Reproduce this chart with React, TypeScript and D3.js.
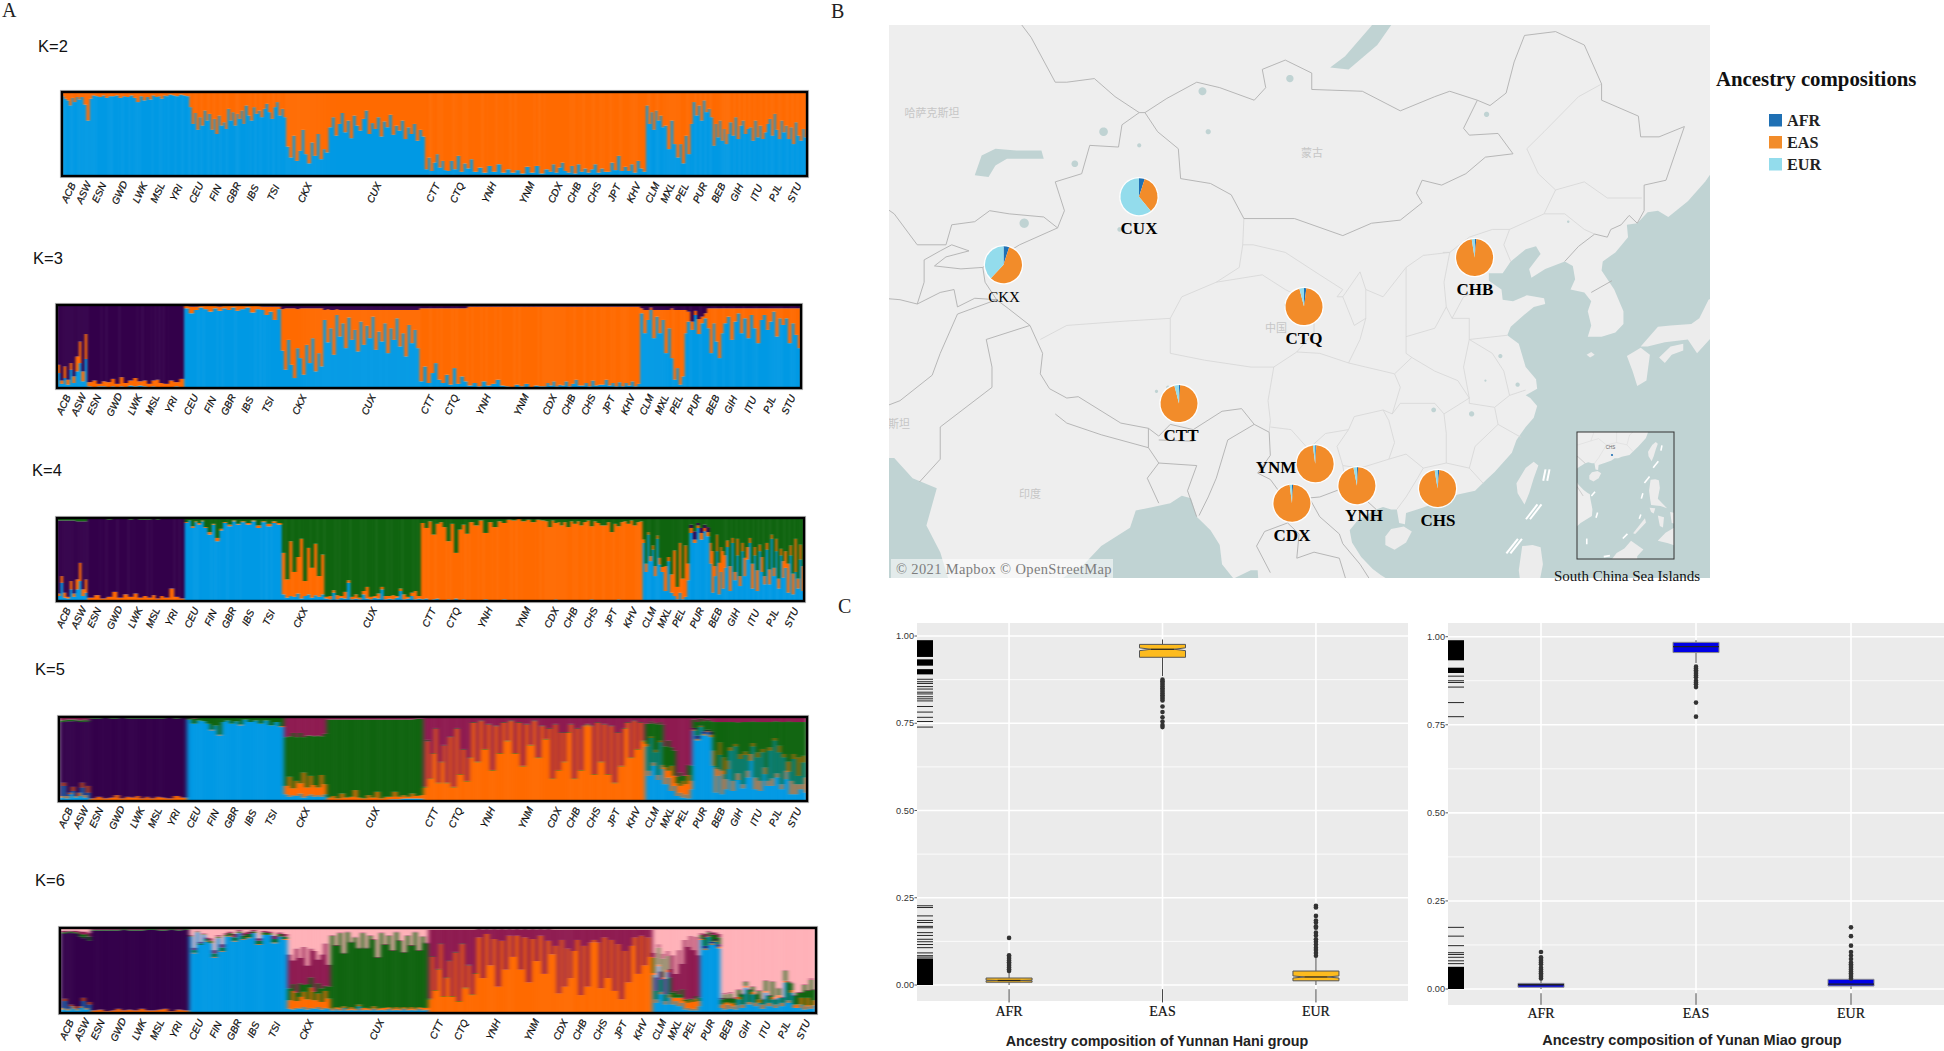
import React from "react";
import * as d3 from "d3";

const SERIF = "'Liberation Serif', serif";
const SANS = "'Liberation Sans', sans-serif";

// Panel A: populations and their relative widths
const populations = ["ACB", "ASW", "ESN", "GWD", "LWK", "MSL", "YRI", "CEU", "FIN", "GBR", "IBS", "TSI", "CKX", "CUX", "CTT", "CTQ", "YNH", "YNM", "CDX", "CHB", "CHS", "JPT", "KHV", "CLM", "MXL", "PEL", "PUR", "BEB", "GIH", "ITU", "PJL", "STU"];
const popSizes = [96, 61, 99, 113, 99, 85, 108, 99, 99, 91, 107, 107, 220, 500, 113, 137, 194, 200, 93, 103, 105, 104, 99, 94, 64, 85, 104, 86, 103, 102, 96, 102];

const BLUE = "#0099e4";
const ORANGE = "#ff6a00";
const PURPLE = "#33004a";
const GREEN = "#0f640f";
const CRIMSON = "#8e1a50";
const PINK = "#ffb1b8";

// every column lists the layers from the bottom in percent, the top layer takes the rest
const k2Values = [
  [[95], [92], [90], [84], [93], [88], [94], [91]],
  [[94], [85], [66], [92]],
  [[96], [95], [94], [96], [93], [95]],
  [[95], [96], [93], [95], [94], [96]],
  [[93], [88], [95], [90], [94], [91]],
  [[96], [94], [95], [92], [96], [95]],
  [[97], [96], [95], [97], [96], [95]],
  [[82], [62], [75], [55], [70], [60], [78], [66]],
  [[74], [55], [68], [50], [72], [60], [64], [56]],
  [[80], [66], [76], [60], [74], [68], [78], [62]],
  [[84], [72], [66], [82], [74], [78], [70], [80]],
  [[86], [76], [68], [82], [88], [72], [80], [70]],
  [[35], [22], [48], [18], [30], [55], [26], [15], [40], [24], [50], [20], [32], [28]],
  [[58], [70], [48], [62], [75], [52], [66], [45], [72], [60], [54], [68], [78], [50], [63], [56], [70], [47], [65], [58], [73], [49], [60], [54], [66], [44], [58], [50], [62], [42], [55], [47]],
  [[8], [22], [6], [16], [26], [10], [18], [7]],
  [[6], [18], [8], [24], [5], [15], [9], [20]],
  [[5], [10], [4], [12], [5], [14], [4], [8]],
  [[4], [7], [3], [11], [4], [12], [3], [8]],
  [[5], [14], [4], [10], [16], [6]],
  [[4], [12], [3], [14], [5], [9]],
  [[4], [8], [14], [4], [9], [5]],
  [[5], [16], [7], [24], [6], [11]],
  [[6], [14], [4], [18], [9], [5]],
  [[84], [62], [76], [55], [78], [66], [72], [58]],
  [[60], [32], [66], [38]],
  [[22], [38], [15], [48], [26], [62]],
  [[88], [72], [84], [66], [90], [76], [80], [70]],
  [[36], [62], [46], [66], [42], [56], [38], [50]],
  [[64], [48], [70], [44], [60], [66], [50], [56]],
  [[58], [42], [66], [46], [60], [44], [52], [62]],
  [[68], [48], [74], [55], [44], [66], [52], [60]],
  [[44], [58], [38], [64], [48], [42], [56], [46]],
];

const k3Values = [
  [[18, 10], [5, 4], [12, 14], [4, 6], [22, 8], [6, 8]],
  [[20, 18], [30, 26], [8, 12], [35, 30]],
  [[2, 5], [1, 8], [2, 3], [2, 6]],
  [[1, 6], [2, 9], [1, 4], [2, 11], [1, 5]],
  [[3, 6], [2, 10], [3, 5], [2, 7]],
  [[1, 4], [2, 7], [1, 9], [1, 5]],
  [[1, 4], [1, 8], [2, 5], [1, 10]],
  [[96, 3], [90, 8], [94, 4], [97, 2]],
  [[95, 4], [92, 7], [96, 3], [93, 5]],
  [[96, 3], [94, 5], [97, 2], [93, 6]],
  [[95, 4], [97, 2], [91, 8], [95, 4]],
  [[94, 4], [88, 10], [92, 6], [82, 16], [95, 3]],
  [[45, 50], [22, 74], [58, 38], [28, 68], [12, 84], [48, 47], [36, 60], [16, 80], [52, 44], [30, 66], [60, 36], [20, 76], [42, 54], [26, 70]],
  [[82, 12], [55, 40], [72, 22], [40, 54], [88, 7], [62, 32], [78, 16], [48, 46], [85, 9], [58, 36], [70, 24], [44, 50], [80, 14], [52, 42], [75, 19], [60, 34], [86, 8], [46, 48], [68, 26], [56, 38], [78, 16], [42, 52], [72, 22], [58, 36], [84, 10], [50, 44], [66, 28], [38, 56], [76, 18], [54, 40], [70, 24], [48, 46]],
  [[8, 88], [26, 70], [6, 90], [18, 78], [30, 66], [10, 86]],
  [[6, 90], [16, 80], [4, 92], [24, 72], [5, 91], [14, 82], [8, 88]],
  [[3, 95], [6, 92], [2, 96], [8, 90], [3, 95], [5, 93], [10, 88], [3, 95]],
  [[2, 96], [1, 97], [4, 94], [2, 96], [5, 93], [1, 97], [3, 95], [2, 96]],
  [[2, 96], [6, 92], [3, 95], [8, 90], [2, 96], [4, 94]],
  [[3, 95], [8, 90], [2, 96], [5, 93], [10, 88], [3, 95]],
  [[3, 95], [6, 92], [2, 96], [9, 89], [3, 95], [4, 94]],
  [[4, 94], [10, 88], [3, 95], [6, 92], [2, 96], [7, 91]],
  [[2, 96], [6, 92], [3, 95], [8, 90], [2, 96], [5, 93]],
  [[90, 6], [66, 28], [82, 12], [94, 3], [60, 34], [86, 8]],
  [[66, 28], [82, 12], [42, 52], [72, 22]],
  [[36, 60], [10, 84], [24, 70], [4, 90], [14, 80], [66, 28]],
  [[80, 12], [70, 10], [88, 5], [65, 18], [78, 8], [84, 6]],
  [[72, 24], [42, 54], [78, 18], [56, 40], [36, 60], [66, 30]],
  [[78, 18], [86, 10], [58, 38], [80, 16], [90, 6], [66, 30]],
  [[84, 12], [60, 36], [88, 8], [72, 24], [54, 42], [82, 14]],
  [[88, 8], [70, 26], [80, 16], [92, 4], [62, 34], [84, 12]],
  [[76, 20], [84, 12], [54, 42], [78, 18], [64, 32], [48, 48]],
];

const k4Values = [
  [[6, 3, 88], [22, 8, 67], [4, 6, 87], [3, 2, 92], [14, 10, 73], [5, 4, 88]],
  [[14, 12, 70], [24, 22, 50], [6, 8, 82], [10, 16, 70]],
  [[1, 3, 95], [1, 6, 92], [1, 2, 96]],
  [[1, 4, 93], [1, 10, 88], [1, 3, 95], [1, 7, 91]],
  [[1, 4, 93], [1, 8, 90], [1, 3, 94], [1, 5, 92]],
  [[1, 3, 94], [1, 6, 92], [1, 2, 95], [1, 5, 93]],
  [[1, 3, 95], [1, 14, 84], [1, 4, 94], [1, 2, 96]],
  [[94, 1, 0], [97, 0, 0], [88, 2, 0], [95, 1, 0], [92, 2, 0], [96, 1, 0]],
  [[88, 1, 0], [80, 3, 0], [92, 1, 0], [72, 4, 0], [85, 2, 0]],
  [[94, 1, 0], [90, 2, 0], [96, 1, 0], [92, 1, 0]],
  [[95, 1, 0], [92, 2, 0], [96, 1, 0], [88, 3, 0]],
  [[95, 1, 0], [90, 3, 0], [94, 2, 0], [92, 2, 0]],
  [[8, 50, 0], [4, 22, 0], [6, 66, 0], [5, 30, 0], [9, 44, 0], [3, 72, 0], [6, 18, 0], [8, 56, 0], [4, 36, 0], [7, 62, 0], [5, 25, 0], [8, 48, 0]],
  [[3, 2, 0], [2, 4, 0], [10, 3, 0], [2, 5, 0], [4, 2, 0], [3, 8, 0], [22, 3, 0], [2, 3, 0], [3, 5, 0], [2, 2, 0], [8, 4, 0], [3, 14, 0], [2, 3, 0], [4, 2, 0], [3, 6, 0], [14, 3, 0], [2, 4, 0], [3, 3, 0], [2, 5, 0], [4, 2, 0], [12, 3, 0], [2, 6, 0], [3, 2, 0], [6, 4, 0], [2, 10, 0], [3, 3, 0]],
  [[2, 92, 0], [3, 85, 0], [1, 95, 0], [2, 78, 0], [3, 90, 0], [1, 94, 0]],
  [[1, 88, 0], [2, 70, 0], [1, 92, 0], [3, 55, 0], [1, 85, 0], [2, 90, 0], [1, 80, 0]],
  [[1, 94, 0], [1, 90, 0], [1, 96, 0], [2, 80, 0], [1, 94, 0], [1, 88, 0], [1, 95, 0], [2, 92, 0]],
  [[1, 97, 0], [1, 96, 0], [1, 98, 0], [1, 95, 0], [1, 97, 0], [1, 94, 0], [1, 97, 0], [1, 96, 0]],
  [[1, 95, 0], [1, 88, 0], [1, 96, 0], [2, 92, 0], [1, 94, 0], [1, 90, 0]],
  [[1, 94, 0], [1, 88, 0], [1, 95, 0], [1, 92, 0], [1, 95, 0], [1, 90, 0]],
  [[1, 94, 0], [1, 96, 0], [2, 88, 0], [1, 95, 0], [1, 93, 0], [1, 90, 0]],
  [[1, 90, 0], [1, 94, 0], [1, 82, 0], [1, 92, 0], [2, 88, 0], [1, 94, 0]],
  [[1, 95, 0], [1, 92, 0], [1, 96, 0], [1, 90, 0], [1, 94, 0], [1, 95, 0]],
  [[70, 4, 0], [35, 10, 0], [80, 3, 0], [48, 6, 0], [62, 5, 0], [30, 12, 0], [75, 4, 0], [44, 8, 0]],
  [[35, 6, 0], [12, 30, 0], [48, 5, 0], [10, 22, 0]],
  [[6, 55, 0], [2, 15, 0], [10, 60, 0], [2, 25, 0], [5, 62, 0], [25, 20, 0]],
  [[82, 6, 4], [70, 4, 10], [88, 3, 3], [74, 8, 6], [84, 4, 4], [78, 5, 6]],
  [[45, 25, 0], [10, 50, 0], [30, 12, 0], [60, 20, 0], [8, 38, 0], [35, 30, 0], [15, 45, 0], [40, 15, 0]],
  [[65, 8, 0], [12, 30, 0], [70, 6, 0], [25, 10, 0], [55, 20, 0], [18, 12, 0], [60, 10, 0], [30, 22, 0]],
  [[50, 15, 0], [70, 6, 0], [15, 30, 0], [55, 10, 0], [12, 25, 0], [60, 8, 0], [35, 18, 0], [20, 10, 0]],
  [[62, 8, 0], [20, 18, 0], [75, 5, 0], [30, 10, 0], [60, 15, 0], [15, 12, 0], [55, 8, 0], [28, 20, 0]],
  [[40, 20, 0], [10, 35, 0], [55, 12, 0], [8, 25, 0], [35, 40, 0], [15, 12, 0], [50, 18, 0], [12, 30, 0]],
];

const k5Values = [
  [[4, 2, 88, 2], [18, 4, 72, 2], [3, 3, 89, 2], [8, 2, 85, 2], [12, 5, 78, 2], [4, 2, 90, 1]],
  [[6, 4, 84, 2], [16, 6, 72, 2], [4, 3, 88, 2], [10, 8, 76, 2]],
  [[1, 2, 95, 1], [1, 4, 93, 1], [1, 2, 96, 1]],
  [[1, 3, 94, 1], [1, 6, 91, 1], [1, 2, 96, 1], [1, 4, 93, 1]],
  [[1, 3, 94, 1], [1, 5, 92, 1], [1, 2, 95, 1], [1, 4, 93, 1]],
  [[1, 2, 95, 1], [1, 4, 93, 1], [1, 3, 94, 1]],
  [[1, 2, 96, 1], [1, 5, 92, 1], [1, 3, 95, 1]],
  [[97, 0, 0, 2], [92, 0, 0, 6], [96, 0, 0, 3], [95, 0, 0, 4]],
  [[92, 0, 0, 7], [84, 1, 0, 14], [90, 0, 0, 9], [78, 1, 0, 20], [94, 0, 0, 5]],
  [[96, 0, 0, 3], [92, 0, 0, 7], [95, 0, 0, 4], [90, 1, 0, 8]],
  [[97, 0, 0, 2], [94, 0, 0, 5], [96, 0, 0, 3], [92, 0, 0, 7]],
  [[96, 0, 0, 3], [90, 0, 0, 9], [94, 0, 0, 5], [88, 1, 0, 10]],
  [[8, 10, 0, 58], [5, 24, 0, 48], [7, 8, 0, 66], [6, 18, 0, 52], [9, 12, 0, 60], [4, 30, 0, 42], [6, 10, 0, 62], [8, 22, 0, 48], [5, 14, 0, 58], [7, 9, 0, 62], [5, 26, 0, 46], [8, 12, 0, 60]],
  [[1, 3, 0, 93], [1, 5, 0, 91], [1, 2, 0, 94], [1, 8, 0, 88], [1, 3, 0, 93], [1, 4, 0, 92], [1, 12, 0, 84], [1, 3, 0, 93], [1, 2, 0, 94], [1, 6, 0, 90], [1, 3, 0, 93], [1, 10, 0, 86], [1, 2, 0, 94], [1, 4, 0, 92], [2, 3, 0, 92], [2, 9, 0, 86], [2, 3, 0, 92], [3, 4, 0, 90], [3, 2, 0, 92], [3, 6, 0, 88], [3, 3, 0, 92], [3, 4, 0, 91]],
  [[1, 15, 0, 1], [1, 70, 0, 2], [1, 25, 0, 1], [1, 55, 0, 1], [1, 85, 0, 1], [1, 20, 0, 1], [1, 45, 0, 1], [1, 65, 0, 1]],
  [[1, 20, 0, 1], [1, 75, 0, 1], [1, 15, 0, 1], [1, 85, 0, 1], [1, 30, 0, 1], [1, 60, 0, 1], [1, 22, 0, 1], [1, 50, 0, 1]],
  [[1, 92, 0, 1], [1, 45, 0, 1], [1, 94, 0, 1], [1, 60, 0, 1], [1, 90, 0, 1], [1, 35, 0, 1], [1, 88, 0, 1], [1, 55, 0, 1], [1, 92, 0, 1], [1, 70, 0, 1]],
  [[1, 94, 0, 1], [1, 55, 0, 1], [1, 92, 0, 1], [1, 40, 0, 1], [1, 90, 0, 1], [1, 65, 0, 1], [1, 94, 0, 1], [1, 50, 0, 1], [1, 88, 0, 1], [1, 72, 0, 1]],
  [[1, 85, 0, 1], [1, 25, 0, 1], [1, 90, 0, 1], [1, 35, 0, 1], [1, 80, 0, 1], [1, 45, 0, 1]],
  [[1, 80, 0, 1], [1, 90, 0, 1], [1, 25, 0, 1], [1, 85, 0, 1], [1, 35, 0, 1], [1, 88, 0, 1]],
  [[1, 90, 0, 1], [1, 88, 0, 1], [1, 30, 0, 1], [1, 92, 0, 1], [1, 45, 0, 1], [1, 90, 0, 1]],
  [[1, 30, 0, 1], [1, 88, 0, 1], [1, 20, 0, 1], [1, 80, 0, 1], [1, 40, 0, 1], [1, 85, 0, 1]],
  [[1, 92, 0, 1], [1, 50, 0, 1], [1, 94, 0, 1], [1, 60, 0, 1], [1, 92, 0, 1], [1, 70, 0, 1]],
  [[65, 3, 0, 24], [30, 6, 0, 56], [75, 2, 0, 18], [42, 4, 0, 46], [58, 3, 0, 32], [25, 6, 0, 60], [70, 2, 0, 22], [38, 5, 0, 48]],
  [[20, 20, 0, 25], [28, 8, 0, 36], [12, 30, 0, 22], [18, 12, 0, 30]],
  [[6, 15, 0, 8], [10, 8, 0, 16], [4, 20, 0, 6], [8, 12, 0, 10], [3, 28, 0, 12], [14, 10, 0, 18]],
  [[84, 1, 2, 10], [72, 2, 4, 16], [88, 1, 1, 8], [78, 2, 3, 12], [82, 1, 2, 12], [76, 3, 4, 12]],
  [[42, 18, 0, 34], [10, 30, 0, 54], [30, 8, 0, 56], [55, 15, 0, 24], [8, 28, 0, 58], [32, 20, 0, 42], [14, 12, 0, 68], [38, 10, 0, 46]],
  [[60, 4, 0, 30], [12, 12, 0, 70], [65, 3, 0, 26], [25, 8, 0, 60], [50, 6, 0, 38], [15, 5, 0, 74], [55, 4, 0, 35], [28, 8, 0, 58]],
  [[48, 8, 0, 38], [65, 4, 0, 26], [14, 14, 0, 66], [52, 6, 0, 36], [12, 12, 0, 70], [58, 4, 0, 32], [32, 8, 0, 54], [18, 6, 0, 70]],
  [[60, 4, 0, 30], [18, 9, 0, 67], [72, 3, 0, 20], [28, 5, 0, 62], [58, 8, 0, 28], [14, 6, 0, 74], [52, 4, 0, 38], [26, 10, 0, 58]],
  [[35, 12, 0, 48], [8, 16, 0, 70], [50, 6, 0, 38], [8, 12, 0, 74], [30, 22, 0, 42], [14, 6, 0, 74], [46, 8, 0, 40], [10, 18, 0, 66]],
];

const k6Values = [
  [[4, 2, 88, 1, 2], [14, 3, 76, 2, 2], [3, 2, 90, 1, 1], [8, 2, 84, 2, 1], [5, 3, 86, 1, 2], [3, 2, 88, 2, 2]],
  [[6, 2, 82, 3, 3], [14, 4, 70, 4, 4], [4, 2, 84, 3, 3], [10, 3, 72, 5, 4]],
  [[1, 2, 94, 1, 1], [1, 3, 93, 1, 1], [1, 1, 95, 1, 1]],
  [[1, 2, 94, 1, 1], [1, 4, 92, 1, 1], [1, 2, 95, 1, 1], [1, 3, 93, 1, 1]],
  [[1, 2, 94, 1, 1], [1, 4, 92, 1, 1], [1, 2, 95, 1, 1]],
  [[1, 2, 95, 1, 1], [1, 3, 93, 1, 1], [1, 4, 92, 1, 1]],
  [[1, 1, 96, 1, 1], [1, 3, 93, 1, 1], [1, 2, 95, 1, 1]],
  [[90, 0, 0, 1, 1], [70, 1, 0, 3, 3], [95, 0, 0, 1, 1], [80, 0, 0, 2, 2], [92, 0, 0, 1, 1], [84, 1, 0, 2, 2]],
  [[82, 0, 0, 3, 3], [65, 1, 0, 4, 4], [88, 0, 0, 2, 2], [72, 1, 0, 4, 4], [90, 0, 0, 2, 2]],
  [[90, 1, 0, 3, 2], [84, 1, 0, 4, 4], [94, 0, 0, 2, 2], [86, 1, 0, 4, 3]],
  [[88, 1, 0, 4, 3], [94, 0, 0, 2, 2], [80, 1, 0, 4, 3], [92, 0, 0, 3, 2]],
  [[92, 0, 0, 2, 2], [82, 1, 0, 4, 4], [90, 0, 0, 3, 2], [86, 1, 0, 3, 3]],
  [[5, 10, 0, 14, 40], [4, 22, 0, 8, 28], [6, 8, 0, 10, 52], [5, 14, 0, 16, 30], [7, 18, 0, 8, 45], [4, 12, 0, 18, 22], [6, 24, 0, 12, 34], [5, 10, 0, 10, 48], [7, 16, 0, 12, 28], [4, 9, 0, 16, 40], [6, 20, 0, 6, 50], [5, 12, 0, 14, 26]],
  [[3, 2, 0, 86, 1], [5, 2, 0, 72, 1], [3, 3, 0, 88, 1], [6, 2, 0, 62, 1], [3, 2, 0, 90, 1], [4, 3, 0, 76, 1], [3, 2, 0, 84, 1], [8, 2, 0, 66, 1], [3, 3, 0, 88, 1], [4, 2, 0, 70, 1], [3, 2, 0, 86, 1], [5, 3, 0, 78, 1], [3, 2, 0, 60, 1], [4, 2, 0, 88, 1], [3, 3, 0, 74, 1], [5, 2, 0, 84, 1], [3, 2, 0, 68, 1], [4, 3, 0, 88, 1], [3, 2, 0, 80, 1], [5, 2, 0, 64, 1], [3, 2, 0, 86, 1], [4, 3, 0, 72, 1], [3, 2, 0, 90, 1], [5, 2, 0, 66, 1], [3, 3, 0, 84, 1], [4, 2, 0, 76, 1]],
  [[1, 15, 0, 1, 81], [1, 65, 0, 1, 31], [1, 25, 0, 1, 71], [1, 50, 0, 1, 46], [1, 80, 0, 1, 16], [1, 18, 0, 1, 78], [1, 40, 0, 1, 56], [1, 60, 0, 1, 36]],
  [[1, 18, 0, 1, 78], [1, 70, 0, 1, 26], [1, 12, 0, 1, 84], [1, 80, 0, 1, 16], [1, 28, 0, 1, 68], [1, 55, 0, 1, 41], [1, 20, 0, 1, 76], [1, 45, 0, 1, 51]],
  [[1, 88, 0, 0, 10], [1, 40, 0, 0, 57], [1, 92, 0, 0, 6], [1, 55, 0, 0, 42], [1, 86, 0, 0, 12], [1, 30, 0, 0, 67], [1, 84, 0, 0, 14], [1, 50, 0, 0, 47], [1, 90, 0, 0, 8], [1, 65, 0, 0, 32]],
  [[1, 90, 0, 0, 8], [1, 50, 0, 0, 47], [1, 88, 0, 0, 10], [1, 35, 0, 0, 62], [1, 86, 0, 0, 12], [1, 60, 0, 0, 37], [1, 90, 0, 0, 8], [1, 45, 0, 0, 52], [1, 84, 0, 0, 14], [1, 68, 0, 0, 29]],
  [[1, 78, 0, 0, 19], [1, 22, 0, 0, 75], [1, 85, 0, 0, 12], [1, 30, 0, 0, 67], [1, 75, 0, 0, 22], [1, 40, 0, 0, 57]],
  [[1, 72, 0, 0, 25], [1, 85, 0, 0, 12], [1, 20, 0, 0, 77], [1, 78, 0, 0, 19], [1, 30, 0, 0, 67], [1, 82, 0, 0, 15]],
  [[1, 85, 0, 0, 12], [1, 82, 0, 0, 15], [1, 28, 0, 0, 69], [1, 88, 0, 0, 9], [1, 40, 0, 0, 57], [1, 85, 0, 0, 12]],
  [[1, 25, 0, 0, 72], [1, 80, 0, 0, 17], [1, 15, 0, 0, 82], [1, 72, 0, 0, 25], [1, 35, 0, 0, 62], [1, 78, 0, 0, 19]],
  [[1, 88, 0, 0, 9], [1, 45, 0, 0, 52], [1, 90, 0, 0, 7], [1, 55, 0, 0, 42], [1, 88, 0, 0, 9], [1, 65, 0, 0, 32]],
  [[45, 2, 0, 18, 6], [12, 4, 0, 10, 16], [55, 2, 0, 20, 4], [22, 3, 0, 14, 10], [40, 2, 0, 22, 6], [10, 4, 0, 8, 18], [48, 3, 0, 16, 6], [18, 4, 0, 20, 10]],
  [[10, 8, 0, 6, 44], [14, 4, 0, 8, 20], [8, 10, 0, 4, 52], [12, 6, 0, 10, 30]],
  [[4, 10, 0, 2, 70], [6, 6, 0, 4, 62], [3, 12, 0, 2, 74], [5, 8, 0, 3, 58], [3, 14, 0, 3, 70], [8, 6, 0, 4, 50]],
  [[86, 1, 1, 4, 2], [74, 2, 3, 10, 4], [90, 1, 1, 3, 2], [80, 2, 2, 8, 3], [84, 1, 2, 5, 3], [76, 2, 3, 8, 4]],
  [[6, 4, 0, 6, 2], [4, 8, 0, 10, 2], [10, 3, 0, 4, 1], [5, 6, 0, 12, 2], [8, 4, 0, 5, 1], [4, 5, 0, 8, 2]],
  [[16, 3, 0, 8, 1], [6, 4, 0, 12, 1], [30, 2, 0, 5, 1], [10, 3, 0, 14, 1], [22, 3, 0, 6, 1], [8, 4, 0, 10, 1]],
  [[12, 4, 0, 10, 1], [5, 5, 0, 6, 1], [24, 2, 0, 12, 1], [8, 4, 0, 8, 1], [16, 3, 0, 18, 1], [6, 4, 0, 6, 1]],
  [[18, 3, 0, 8, 1], [8, 4, 0, 6, 1], [36, 2, 0, 12, 1], [12, 3, 0, 22, 1], [24, 3, 0, 8, 1], [6, 4, 0, 10, 1]],
  [[6, 4, 0, 14, 1], [10, 8, 0, 6, 1], [4, 5, 0, 24, 1], [8, 10, 0, 8, 1], [5, 4, 0, 30, 2], [9, 6, 0, 12, 1]],
];

const k2Colors = [BLUE, ORANGE];
const k3Colors = [BLUE, ORANGE, PURPLE];
const k4Colors = [BLUE, ORANGE, PURPLE, GREEN];
const k5Colors = [BLUE, ORANGE, PURPLE, GREEN, CRIMSON];
const k6Colors = [BLUE, ORANGE, PURPLE, GREEN, CRIMSON, PINK];

// Panel B: map outlines in lon/lat
const seaEast = [[108.9, 15], [108.8, 15.8], [108.3, 16.1], [107.6, 16.6], [106.6, 17.6], [105.8, 18.8], [105.6, 19.8], [106.2, 20.5], [106.8, 20.9], [107.9, 21.5], [108.5, 21.7], [109.2, 21.5], [109.7, 21.5], [109.9, 20.4], [110.4, 20.3], [110.5, 21.2], [111.8, 21.6], [113, 22], [113.6, 22.4], [114.3, 22.4], [115, 22.7], [116.5, 23], [117.5, 23.9], [118.2, 24.5], [119, 25.3], [119.7, 26], [120.1, 27], [120.9, 28], [121.6, 28.7], [121.9, 29.6], [121.3, 30.2], [120.9, 30.4], [121.9, 30.9], [121.8, 31.6], [120.9, 32.5], [120.3, 34.2], [119.3, 34.8], [119.6, 35.4], [120.7, 36.2], [121.6, 36.8], [122.6, 37], [122.5, 37.4], [121, 37.6], [119.8, 37.2], [118.9, 37.3], [118.8, 38], [117.7, 38.6], [117.7, 39.1], [118.9, 39.1], [119.6, 39.9], [120.9, 40.7], [121.8, 40.9], [122.2, 40.4], [121.2, 39.4], [121.4, 38.8], [122.6, 39.4], [124.3, 39.9], [125, 39.6], [125.2, 38.7], [124.8, 38], [126, 37.8], [126.6, 37.2], [126.3, 36.5], [126.6, 35.5], [126.3, 34.7], [127.5, 34.7], [128.7, 35], [129.4, 35.6], [129.4, 36.5], [128.6, 38], [127.5, 39.3], [127.6, 39.9], [128.7, 40.5], [129.8, 41.5], [129.7, 42.3], [130.6, 42.4], [131.5, 43.1], [132.4, 43.2], [133.3, 42.8], [135, 43.8], [136.5, 45], [138, 46.5], [142, 46.5], [142, 0], [99, 0], [100.5, 6], [99.3, 9.5], [100, 13], [100.9, 13.4], [102, 12.5], [103, 11], [104.8, 10], [105, 8.6], [107, 10.4], [109.2, 11.7], [109.3, 13]];
const seaArabian = [[60, 25.6], [66, 25.6], [67.6, 24], [69.7, 23.2], [68.8, 20.2], [70, 18], [70.7, 15.8], [71, 14], [60, 14]];
const seaBengal = [[80.3, 14], [80.2, 15.5], [81.3, 16.3], [82.3, 16.8], [84, 18.5], [86.5, 20], [87, 21.4], [88.5, 21.7], [90, 22], [91, 22.6], [91.8, 22.4], [92.3, 20.9], [93.5, 19.8], [94.3, 18.6], [94.5, 17], [95.5, 15.8], [97, 16.5], [97.6, 16.5], [97.7, 15], [98, 14]];
const islands = [
  [[130.9, 34], [132.4, 35.4], [133.5, 35.5], [135.3, 35.6], [136, 36], [136.8, 37.3], [137.3, 37.5], [137, 36.8], [138.5, 37.3], [139.5, 38.3], [140, 39.8], [140, 41], [141.4, 41.4], [142, 39.6], [141, 38.3], [140.9, 36.5], [140.6, 35.4], [139.8, 35.3], [138.8, 34.7], [137, 34.6], [135.8, 33.5], [135, 34.5], [133, 34.3], [131.5, 34]],
  [[132.5, 33.2], [133.5, 34], [134.6, 34.2], [134.6, 33.7], [133.6, 33.4], [133, 32.8]],
  [[129.7, 33.3], [130.9, 33.9], [131.7, 33.4], [131.4, 31.5], [130.6, 31.1], [130.2, 32.2]],
  [[126.2, 33.4], [126.6, 33.6], [126.9, 33.4], [126.5, 33.2]],
  [[121.6, 25.3], [122, 25], [121.6, 24], [121.2, 22.8], [120.8, 21.9], [120.2, 22.8], [120.1, 23.6], [120.9, 24.8]],
  [[108.7, 19.3], [109.2, 19.9], [110.3, 20.1], [111, 19.7], [110.5, 18.8], [109.5, 18.2], [108.7, 18.6]],
  [[120.6, 18.5], [121.5, 18.6], [122.2, 18.4], [122.4, 17], [122, 15], [123.8, 13.2], [122.5, 13.6], [120.7, 13.8], [120.5, 15], [120.3, 16.5]],
  [[120.4, 13.3], [121.5, 13.2], [121.2, 12.2], [120.7, 12.5]],
  [[117.2, 8.4], [119.5, 11.3], [119.7, 10.5], [117.6, 8.3]],
  [[122, 11.8], [123.2, 11.5], [123, 9.5], [122.4, 9.8]],
  [[124.4, 12.5], [125.6, 12.2], [125.4, 10.2], [124.7, 10.4]],
  [[122, 7], [123.5, 8.5], [125.5, 9.7], [126.5, 8], [125.5, 6], [124, 6.5]],
  [[109, 1.5], [111.5, 2.5], [113, 3.3], [114, 4.6], [115.5, 5.5], [116.8, 7], [119.2, 5.3], [118, 4], [118, 1], [109, 0]],
];
const lakeShapes = [
  [[73, 45.4], [73.6, 46.6], [74.8, 47], [76.6, 46.9], [78.8, 46.9], [79, 46.4], [77.4, 46.4], [75.8, 46.4], [74.8, 46], [74.2, 45.3]],
  [[103.9, 51.6], [105.5, 51.5], [108, 52.8], [110, 54.5], [110, 56], [108.8, 56], [107.5, 53.8], [105.2, 52.2]],
];
const lakes = [[77.3, 42.4, 0.3], [81.7, 46.1, 0.2], [84.2, 48, 0.25], [87.3, 47.2, 0.12], [85.6, 42, 0.15], [100.2, 36.9, 0.25], [100.4, 51, 0.2], [92.8, 50.3, 0.22], [93.3, 48, 0.15], [112.9, 29.3, 0.18], [116.2, 29, 0.2], [120.2, 31.2, 0.16], [118.7, 33.3, 0.15], [117.4, 31.5, 0.08], [89.8, 31, 0.13], [88.8, 30.7, 0.12], [90.6, 30.7, 0.12], [117.5, 49, 0.15], [124.6, 42.5, 0.08]];

const nationalLines = [
  [[124.3, 39.9], [125.5, 40.9], [126.9, 41.7], [128, 41.5], [128.3, 42], [129.2, 42.3], [129.9, 42.9], [130.6, 42.4], [131.2, 43.2], [131.2, 44.8], [133.1, 45.1], [134.7, 48.3], [132.5, 47.7], [130.9, 47.7], [130.7, 48.9], [127.5, 49.8], [127.5, 50.7], [126, 52.8], [123.5, 53.5], [120.8, 53.3], [119.9, 51.9], [119.2, 50.2], [117.8, 49.5], [116.7, 49.8], [115.5, 48.2], [116, 47.8], [118.5, 47.9], [119.8, 46.7], [117.4, 46.5], [115.7, 45.5], [113.6, 44.8], [111.9, 45.1], [111.4, 44.3], [111.9, 43.7], [110, 42.6], [107.5, 42.4], [105, 41.6], [100.8, 42.7], [96.4, 42.7], [95.3, 44.2], [93.5, 44.9], [90.9, 45.2], [90.7, 47], [88.9, 48], [87.8, 49.1], [87.3, 49.1], [85.8, 48.4], [85.5, 47.1], [83, 47.2], [82.3, 45.5], [80, 45], [80.8, 43.2], [80.2, 42.1], [76.9, 41], [73.7, 39.5], [73.9, 38.5], [74.9, 37.3], [75.9, 36.7], [77.8, 35.5], [78.9, 33.5], [78.7, 32], [79.5, 30.9], [81, 30.2], [82, 30.3], [85.7, 28.3], [88.1, 27.9], [89, 27.3], [90, 28.2], [92, 27.8], [94.5, 29.2], [96.2, 29.4], [97.3, 28.2], [98.6, 27.6], [98.7, 25.8], [97.6, 24.4], [98.7, 23.9], [99.5, 22.9], [100.2, 21.5], [101.1, 21.6], [101.8, 22.4], [103, 22.5], [105.3, 23.3], [106.6, 22.6], [107.9, 21.5]],
  [[87.8, 49.1], [89.7, 49.9], [92.3, 50.8], [94.3, 50.5], [97.3, 49.8], [98.3, 50.5], [98, 51.5], [100, 52], [102.3, 51.3], [102.3, 50.4], [106.7, 50.3], [110, 49.2], [113, 50], [114.3, 50.3], [116.7, 49.8]],
  [[87.3, 49.1], [85.2, 50], [83.4, 51], [81, 50.8], [80, 50.8], [77.9, 53.2], [76.5, 54.3]],
  [[80.2, 42.1], [79, 42.8], [76, 43], [74.3, 43.2], [73, 42.5], [71, 42.3], [70.5, 41], [68, 41], [66, 43], [65, 43.5]],
  [[73.7, 39.5], [71.8, 39.4], [69.5, 39.6], [70.5, 40.2], [72.5, 40.6], [71, 41], [70, 40.6], [68.6, 40], [68.6, 38.5], [68, 37]],
  [[74.9, 37.3], [73, 37.4], [71.5, 36.8], [71.2, 38], [70, 37.8], [68, 37], [66.5, 37.3], [65, 37.4]],
  [[74.9, 37.3], [71.5, 36.3], [70, 33.5], [69.3, 31.9], [66.5, 30], [65, 29.5]],
  [[77.8, 35.5], [74, 34.5], [74.5, 32.5], [74.5, 31], [70, 28], [70, 25.5], [68.2, 23.7]],
  [[80, 29], [81, 28.3], [84, 27.4], [88.1, 26.4], [88.1, 27.9]],
  [[89, 27], [92, 26.9]],
  [[97.3, 28.2], [95, 27], [94, 24], [93.3, 22.5], [92.5, 21]],
  [[88.1, 26.4], [89, 25.2], [92.3, 25], [91.5, 23], [92.3, 20.9]],
  [[89, 25.2], [88, 24], [89, 22]],
  [[101, 21.4], [100.2, 20.4], [98.2, 19.7], [97.5, 18.5], [98.7, 16.3]],
  [[102.1, 22.4], [103, 20.9], [104.7, 19.5], [105, 18.7], [106.5, 17], [107.5, 15.5]],
  [[100.2, 20.4], [101.2, 19.5], [101, 17.5], [102.5, 18], [104.7, 17.5], [105.5, 15]],
  [[126.6, 37.8], [128.4, 38.6]],
];
const provinceLines = [
  [[78.7, 34.5], [81, 35.5], [86, 35.8], [90, 36], [91, 37.5], [94, 38.5], [96, 39.5], [96.3, 41], [96.4, 42.7]],
  [[90, 36], [90, 33.5], [93, 33], [97, 32.5], [99, 32.5]],
  [[99, 32.5], [98.5, 30], [98.7, 28.5], [98.6, 27.6]],
  [[94, 38.5], [98, 39], [100, 38], [102.5, 37], [102.5, 35], [101, 33.6], [99, 32.5]],
  [[96.3, 41], [97.2, 41], [100, 40.5], [103, 39], [105, 38], [104.5, 37.5], [105, 37.5]],
  [[105, 37.5], [106.5, 39.2], [107, 38], [107, 36], [106, 35.5], [105, 37.5]],
  [[107, 38], [108.5, 37.5], [110.5, 39.5], [110.5, 35.5], [110.5, 33.5], [111, 33.2], [109.5, 32], [107, 32.5], [105.5, 32.8], [106.5, 34.5], [107, 36]],
  [[101, 33.6], [103, 33.5], [105.5, 32.8]],
  [[98.7, 28], [100.5, 27.8], [102, 26.3], [103.5, 27.5], [105.5, 27.8], [106, 28.8], [108.5, 29.3], [109.3, 29], [110, 31], [109.5, 32]],
  [[105.5, 27.8], [104.5, 26.5], [105, 25], [106.5, 24.8], [109, 25.5], [109.5, 26.8], [109, 28.5], [108.5, 29.3]],
  [[105.3, 23.3], [105, 25]],
  [[109.7, 21.5], [110.5, 22.5], [111.5, 24], [112, 24.8], [110.5, 25.9], [109, 25.5]],
  [[112, 24.8], [114, 25.2], [114, 27.5], [113.8, 29], [113, 29.8], [110, 29.8], [109.3, 29]],
  [[111, 33.2], [113, 32.2], [115, 31.5], [116, 30.2], [113.8, 29]],
  [[116, 30.2], [116, 29.8], [118.2, 29.5], [118.5, 28.2], [116.5, 26.5], [116, 24.8], [114, 25.2]],
  [[116, 24.8], [117.2, 23.6]],
  [[118.5, 28.2], [120.5, 27.2]],
  [[118.2, 29.5], [119.5, 30.4], [120.9, 30.8]],
  [[116, 30.2], [115.5, 32.5], [116, 34.5], [118, 33.5], [119, 32.2], [119.5, 30.4]],
  [[114.5, 36], [116, 36], [116, 34.5], [119.3, 34.8]],
  [[110.5, 34.7], [113, 35.3], [114, 36.8]],
  [[114, 36.8], [113.8, 38.5], [114.3, 40.5], [113.7, 40.5]],
  [[110.5, 39.5], [112, 40.3], [114.3, 40.5], [116, 41.5], [118, 42], [119.5, 42], [122.5, 43], [123.5, 44.5], [122, 45.5], [121, 47], [122.5, 48], [125.5, 50], [127.5, 50.7]],
  [[119.6, 39.9], [119, 41], [119.5, 42]],
  [[122.5, 43], [124.3, 43], [126, 42], [126.9, 41.7]],
  [[123.5, 44.5], [126, 45], [128, 44], [131, 44]],
  [[117.7, 38.2], [115.5, 37.5], [114.5, 36], [114, 36.8]],
];
const nineDash = [
  [[122.8, 24.7], [122.6, 23.8]],
  [[122.1, 21.9], [121.1, 20.7]],
  [[120.4, 19.1], [119.4, 17.9]],
  [[119.1, 16], [118.8, 15]],
  [[118.7, 12], [118.4, 11.2]],
  [[116.1, 8.3], [115.2, 7.4]],
  [[112.7, 4.1], [111.5, 3.9]],
  [[108.2, 7.4], [108.2, 6.3]],
  [[110.3, 12.4], [110, 11.4]],
  [[109.8, 16.3], [109.1, 15.5]],
];

const pieKeys = ["AFR", "EAS", "EUR"];
const pieColors = ["#1f70b4", "#f28c2a", "#93dcec"];
const siteNames = ["CUX", "CKX", "CHB", "CTQ", "CTT", "YNM", "YNH", "CDX", "CHS"];
const siteLonLat = [[87.28, 44.08], [75.5, 39.68], [116.46, 40.16], [101.63, 36.82], [90.76, 29.78], [102.6, 25.14], [106.23, 23.4], [100.58, 22], [113.24, 23.18]];
const siteShares = [
  [0.05, 0.34, 0.61],
  [0.05, 0.57, 0.38],
  [0.015, 0.96, 0.025],
  [0.02, 0.94, 0.04],
  [0.01, 0.95, 0.04],
  [0.01, 0.97, 0.02],
  [0.01, 0.96, 0.03],
  [0.01, 0.97, 0.02],
  [0.015, 0.96, 0.025],
];

// Panel C: boxplots
const ancestries = ["AFR", "EAS", "EUR"];
const yTicks = [0, 0.25, 0.5, 0.75, 1];
const yMinor = [0.125, 0.375, 0.625, 0.875];
// lo, q1, median, q3, hi, notch half height
const haniBoxes = [
  [0, 0.008, 0.013, 0.02, 0.037, 0.001],
  [0.885, 0.939, 0.962, 0.976, 0.99, 0.004],
  [0, 0.012, 0.023, 0.04, 0.08, 0.003],
];
const miaoBoxes = [
  [0, 0.005, 0.012, 0.016, 0.03, 0.001],
  [0.925, 0.955, 0.972, 0.984, 0.99, 0.002],
  [0, 0.0085, 0.014, 0.0275, 0.05, 0.002],
];
const haniOutliers = [
  [0.04, 0.045, 0.05, 0.055, 0.06, 0.065, 0.07, 0.075, 0.08, 0.085, 0.135],
  [0.875, 0.87, 0.865, 0.86, 0.855, 0.85, 0.845, 0.84, 0.835, 0.83, 0.825, 0.82, 0.815, 0.798, 0.782, 0.767, 0.755, 0.745, 0.739],
  [0.084, 0.092, 0.1, 0.107, 0.116, 0.124, 0.131, 0.142, 0.15, 0.164, 0.168, 0.179, 0.185, 0.198, 0.222, 0.227],
];
const miaoOutliers = [
  [0.03, 0.035, 0.04, 0.045, 0.05, 0.055, 0.06, 0.07, 0.075, 0.08, 0.085, 0.09, 0.105],
  [0.915, 0.91, 0.905, 0.9, 0.895, 0.89, 0.885, 0.875, 0.87, 0.865, 0.857, 0.813, 0.773],
  [0.03, 0.035, 0.04, 0.045, 0.05, 0.055, 0.06, 0.065, 0.07, 0.075, 0.085, 0.095, 0.105, 0.123, 0.15, 0.175],
];
const haniRugSolid = [[0, 0.076], [0.89, 0.905], [0.915, 0.933], [0.94, 0.988]];
const haniRugLines = [0.876, 0.869, 0.864, 0.855, 0.848, 0.839, 0.834, 0.826, 0.82, 0.814, 0.798, 0.782, 0.767, 0.755, 0.739, 0.227, 0.222, 0.198, 0.185, 0.179, 0.168, 0.164, 0.15, 0.142, 0.131, 0.124, 0.116, 0.107, 0.092, 0.084, 0.08];
const miaoRugSolid = [[0, 0.063], [0.897, 0.912], [0.933, 0.99]];
const miaoRugLines = [0.888, 0.875, 0.87, 0.857, 0.813, 0.773, 0.175, 0.15, 0.123, 0.103, 0.098, 0.09, 0.08, 0.072];

const stripPanels = [
  { label: "K=2", labelX: 38, labelY: 52, values: k2Values, colors: k2Colors, blur: "soft", x: [62, 807], y: [92, 176] },
  { label: "K=3", labelX: 33, labelY: 264, values: k3Values, colors: k3Colors, blur: "soft", x: [57, 801], y: [305, 388] },
  { label: "K=4", labelX: 32, labelY: 476, values: k4Values, colors: k4Colors, blur: "soft", x: [57, 804], y: [518, 601] },
  { label: "K=5", labelX: 35, labelY: 675, values: k5Values, colors: k5Colors, blur: "softer", x: [59, 807], y: [717, 801] },
  { label: "K=6", labelX: 35, labelY: 886, values: k6Values, colors: k6Colors, blur: "softer", x: [60, 816], y: [928, 1013] },
];

const MAP_LEFT = 889;
const MAP_RIGHT = 1710;
const MAP_TOP = 25;
const MAP_BOTTOM = 578;
const LAND = "#eeeeee";
const SEA = "#c0d3d3";

const mainProjection = d3.geoMercator().scale(659).center([109.8, 19.2]).translate([1398, 537.6]);
const insetProjection = d3.geoMercator().scale(295).center([109.8, 19.2]).translate([1595, 476]);

function Strip({ panel, id }: any) {
  const cumulative = d3.cumsum(popSizes);
  const total = cumulative[cumulative.length - 1];
  const x = d3.scaleLinear().domain([0, total]).range(panel.x);
  const y = d3.scaleLinear().domain([0, 100]).range([panel.y[1], panel.y[0]]);
  const keys = d3.range(panel.colors.length);

  return (
    <g>
      <clipPath id={id}>
        <rect x={panel.x[0]} y={panel.y[0]} width={panel.x[1] - panel.x[0]} height={panel.y[1] - panel.y[0]} />
      </clipPath>
      <g clipPath={`url(#${id})`}>
        <g filter={`url(#${panel.blur})`}>
          {populations.map((pop, i) => {
            const x0 = x(i === 0 ? 0 : cumulative[i - 1]);
            const x1 = x(cumulative[i]);
            const rows = panel.values[i].map((col: number[]) => {
              const rest = 100 - d3.sum(col);
              return [...col, rest];
            });
            const band = d3.scaleBand<number>().domain(d3.range(rows.length)).range([x0, x1]);
            const series = d3.stack<any, number[], number>().keys(keys).value((d, k) => d[k])(rows);
            return series.map((layer, k) =>
              layer.map((seg, c) => (
                <rect
                  key={`${pop}-${k}-${c}`}
                  x={band(c)}
                  y={y(seg[1])}
                  width={band.bandwidth() + 0.4}
                  height={Math.max(0, y(seg[0]) - y(seg[1]))}
                  fill={panel.colors[k]}
                />
              ))
            );
          })}
        </g>
        {cumulative.slice(0, -1).map((c: number, i: number) => (
          <line key={i} x1={x(c)} x2={x(c)} y1={panel.y[0]} y2={panel.y[1]} stroke="#111" strokeWidth={0.9} opacity={0.85} />
        ))}
      </g>
      <rect x={panel.x[0] - 1.6} y={panel.y[0] - 1.6} width={panel.x[1] - panel.x[0] + 3.2} height={panel.y[1] - panel.y[0] + 3.2} fill="none" stroke="#b5b5b5" strokeWidth={1} />
      <rect x={panel.x[0]} y={panel.y[0]} width={panel.x[1] - panel.x[0]} height={panel.y[1] - panel.y[0]} fill="none" stroke="#000" strokeWidth={2.4} />
      {populations.map((pop, i) => {
        const cx = (x(i === 0 ? 0 : cumulative[i - 1]) + x(cumulative[i])) / 2 - 2;
        const cy = panel.y[1] + 17;
        return (
          <text key={pop} transform={`translate(${cx},${cy}) rotate(-65)`} textAnchor="middle" dominantBaseline="middle" fontFamily={SANS} fontStyle="italic" fontSize={10} fill="#111" stroke="#111" strokeWidth={0.25}>
            {pop}
          </text>
        );
      })}
      <text x={panel.labelX} y={panel.labelY} fontFamily={SANS} fontSize={16.5} fill="#111">
        {panel.label}
      </text>
    </g>
  );
}

function MapLayers({ projection, lineScale }: any) {
  const path = d3.line<number[]>().x((d) => projection(d)[0]).y((d) => projection(d)[1]);
  const lake = d3.geoCircle();
  return (
    <g>
      <path d={path(seaEast) + "Z"} fill={SEA} />
      <path d={path(seaArabian) + "Z"} fill={SEA} />
      <path d={path(seaBengal) + "Z"} fill={SEA} />
      {islands.map((d, i) => (
        <path key={i} d={path(d) + "Z"} fill="#ececec" />
      ))}
      {lakeShapes.map((d, i) => (
        <path key={i} d={path(d) + "Z"} fill={SEA} />
      ))}
      {lakes.map((d, i) => (
        <path key={i} d={path(lake.center([d[0], d[1]]).radius(d[2])().coordinates[0]) + "Z"} fill={SEA} />
      ))}
      {provinceLines.map((d, i) => (
        <path key={i} d={path(d)!} fill="none" stroke="#d6d6d6" strokeWidth={0.8 * lineScale} />
      ))}
      {nationalLines.map((d, i) => (
        <path key={i} d={path(d)!} fill="none" stroke="#b0b0b0" strokeWidth={0.9 * lineScale} />
      ))}
    </g>
  );
}

function Pie({ name, lonLat, shares }: any) {
  const [cx, cy] = mainProjection(lonLat) as number[];
  const pie = d3.pie<number>().sort(null);
  const arc = d3.arc<any>().innerRadius(0).outerRadius(18.5);
  return (
    <g transform={`translate(${cx},${cy})`}>
      <circle r={19.8} fill="#fff" opacity={0.9} />
      {pie(shares).map((d, i) => (
        <path key={name + pieKeys[i]} d={arc(d)!} fill={pieColors[i]} />
      ))}
    </g>
  );
}

function BoxPanel({ xRange, yRange, panelTop, panelBottom, boxes, outliers, rugSolid, rugLines, fill, stroke, stemStart, stemEnd, labelY, title, titleX, titleY, titleSize, notched }: any) {
  const left = xRange[0];
  const right = xRange[1];
  const x = d3.scalePoint<string>().domain(ancestries).range([left, right]).padding(0.6);
  const y = d3.scaleLinear().domain([0, 1]).range(yRange);
  const boxWidth = 46;
  return (
    <g>
      <rect x={left} y={panelTop} width={right - left} height={panelBottom - panelTop} fill="#ebebeb" />
      {yMinor.map((t) => (
        <line key={t} x1={left} x2={right} y1={y(t)} y2={y(t)} stroke="#fff" strokeWidth={0.8} />
      ))}
      {yTicks.map((t) => (
        <line key={t} x1={left} x2={right} y1={y(t)} y2={y(t)} stroke="#fff" strokeWidth={1.6} />
      ))}
      {ancestries.map((a) => (
        <line key={a} x1={x(a)} x2={x(a)} y1={panelTop} y2={panelBottom} stroke="#fff" strokeWidth={1.6} />
      ))}
      {rugSolid.map((d: number[], i: number) => (
        <rect key={i} x={left} width={16} y={y(d[1])} height={y(d[0]) - y(d[1])} fill="#000" />
      ))}
      {rugLines.map((v: number, i: number) => (
        <line key={i} x1={left} x2={left + 16} y1={y(v)} y2={y(v)} stroke="#111" strokeWidth={0.9} />
      ))}
      {ancestries.map((a, i) => {
        const [lo, q1, med, q3, hi, notch] = boxes[i];
        const cx = x(a)!;
        const hw = boxWidth / 2;
        const iw = notched ? hw / 2 : hw;
        const shape = d3.path();
        shape.moveTo(cx - hw, y(q3));
        shape.lineTo(cx + hw, y(q3));
        shape.lineTo(cx + hw, y(med + notch));
        shape.lineTo(cx + iw, y(med));
        shape.lineTo(cx + hw, y(med - notch));
        shape.lineTo(cx + hw, y(q1));
        shape.lineTo(cx - hw, y(q1));
        shape.lineTo(cx - hw, y(med - notch));
        shape.lineTo(cx - iw, y(med));
        shape.lineTo(cx - hw, y(med + notch));
        shape.closePath();
        return (
          <g key={a}>
            <line x1={cx} x2={cx} y1={y(hi)} y2={y(q3)} stroke="#333" strokeWidth={0.9} />
            <line x1={cx} x2={cx} y1={y(q1)} y2={y(lo)} stroke="#333" strokeWidth={0.9} />
            <path d={shape.toString()} fill={fill} stroke={stroke} strokeWidth={1} />
            <line x1={cx - iw} x2={cx + iw} y1={y(med)} y2={y(med)} stroke="#222" strokeWidth={1.3} />
            {outliers[i].map((v: number, j: number) => (
              <circle key={j} cx={cx} cy={y(v)} r={2.3} fill="#333" />
            ))}
            <line x1={cx} x2={cx} y1={y(stemStart)} y2={y(stemEnd)} stroke="#333" strokeWidth={0.9} />
            <text x={cx} y={labelY} textAnchor="middle" fontFamily={SERIF} fontSize={14} fill="#111" stroke="#111" strokeWidth={0.2}>
              {a}
            </text>
          </g>
        );
      })}
      {yTicks.map((t) => (
        <g key={t}>
          <line x1={left - 2.5} x2={left} y1={y(t)} y2={y(t)} stroke="#333" strokeWidth={0.8} />
          <text x={left - 3} y={y(t) + 3.2} textAnchor="end" fontFamily={SANS} fontSize={9.2} fill="#333">
            {t.toFixed(2)}
          </text>
        </g>
      ))}
      <text x={titleX} y={titleY} textAnchor="middle" fontFamily={SANS} fontWeight="bold" fontSize={titleSize} fill="#222">
        {title}
      </text>
    </g>
  );
}

export default function App() {
  return (
    <svg width={1944} height={1051} style={{ position: "absolute", left: 0, top: 0, display: "block" }}>
      <defs>
        <filter id="soft" x="-2%" y="-5%" width="104%" height="110%" colorInterpolationFilters="sRGB">
          <feGaussianBlur stdDeviation="1.2 0.35" />
        </filter>
        <filter id="softer" x="-2%" y="-5%" width="104%" height="110%" colorInterpolationFilters="sRGB">
          <feGaussianBlur stdDeviation="1.9 0.35" />
        </filter>
        <clipPath id="mapClip">
          <rect x={MAP_LEFT} y={MAP_TOP} width={MAP_RIGHT - MAP_LEFT} height={MAP_BOTTOM - MAP_TOP} />
        </clipPath>
        <clipPath id="insetClip">
          <rect x={1577} y={432} width={97} height={127} />
        </clipPath>
      </defs>
      <rect width={1944} height={1051} fill="#fff" />

      <text x={2} y={17} fontFamily={SERIF} fontSize={20} fill="#222">A</text>
      <text x={831} y={18} fontFamily={SERIF} fontSize={20} fill="#222">B</text>
      <text x={838} y={613} fontFamily={SERIF} fontSize={20} fill="#222">C</text>

      {stripPanels.map((panel, i) => (
        <Strip key={panel.label} panel={panel} id={`strip${i}`} />
      ))}

      {/* map */}
      <g clipPath="url(#mapClip)">
        <rect x={MAP_LEFT} y={MAP_TOP} width={MAP_RIGHT - MAP_LEFT} height={MAP_BOTTOM - MAP_TOP} fill={LAND} />
        <MapLayers projection={mainProjection} lineScale={1} />
        {nineDash.slice(0, 3).map((d, i) => {
          const p0 = mainProjection(d[0] as any) as number[];
          const p1 = mainProjection(d[1] as any) as number[];
          return (
            <g key={i}>
              <line x1={p0[0] - 2} y1={p0[1]} x2={p1[0] - 2} y2={p1[1]} stroke="#fff" strokeWidth={2} />
              <line x1={p0[0] + 2} y1={p0[1]} x2={p1[0] + 2} y2={p1[1]} stroke="#fff" strokeWidth={2} />
            </g>
          );
        })}
        <g fontFamily="'Noto Sans CJK SC', sans-serif" fontSize={11} fill="#c6c6c6" textAnchor="middle">
          <text x={932} y={117}>哈萨克斯坦</text>
          <text x={1312} y={157}>蒙古</text>
          <text x={1276} y={332}>中国</text>
          <text x={888} y={428}>巴基斯坦</text>
          <text x={1030} y={498}>印度</text>
        </g>
      </g>

      <g clipPath="url(#insetClip)">
        <rect x={1577} y={432} width={97} height={127} fill={LAND} />
        <MapLayers projection={insetProjection} lineScale={0.6} />
        {nineDash.map((d, i) => {
          const p0 = insetProjection(d[0] as any) as number[];
          const p1 = insetProjection(d[1] as any) as number[];
          return <line key={i} x1={p0[0]} y1={p0[1]} x2={p1[0]} y2={p1[1]} stroke="#fff" strokeWidth={1.6} />;
        })}
        <circle cx={1612} cy={455} r={1.1} fill="#1f70b4" />
        <text x={1610.5} y={449} textAnchor="middle" fontFamily={SANS} fontSize={4.5} fill="#666">CHS</text>
      </g>
      <rect x={1577} y={432} width={97} height={127} fill="none" stroke="#333" strokeWidth={1} />

      {siteNames.map((name, i) => (
        <Pie key={name} name={name} lonLat={siteLonLat[i]} shares={siteShares[i]} />
      ))}
      <g fontFamily={SERIF} fontWeight="bold" fontSize={17} textAnchor="middle" fill="#000">
        <text x={1139} y={234}>CUX</text>
        <text x={1004} y={302} fontWeight="normal" fontSize={15}>CKX</text>
        <text x={1475} y={295}>CHB</text>
        <text x={1304} y={344}>CTQ</text>
        <text x={1181} y={441}>CTT</text>
        <text x={1276} y={473}>YNM</text>
        <text x={1364} y={521}>YNH</text>
        <text x={1292} y={541}>CDX</text>
        <text x={1438} y={526}>CHS</text>
      </g>

      <rect x={891} y={559} width={222} height={19} fill="#fff" opacity={0.55} />
      <text x={896} y={574} fontFamily={SERIF} fontSize={14.5} letterSpacing={0.35} fill="#7d7d7d">© 2021 Mapbox © OpenStreetMap</text>
      <text x={1627} y={581} textAnchor="middle" fontFamily={SERIF} fontSize={15} fill="#111">South China Sea Islands</text>

      {/* legend */}
      <text x={1716} y={86} fontFamily={SERIF} fontWeight="bold" fontSize={20.8} fill="#111">Ancestry compositions</text>
      {pieKeys.map((k, i) => (
        <g key={k}>
          <rect x={1769} y={114 + i * 22} width={13} height={12.5} fill={pieColors[i]} />
          <text x={1787} y={125.5 + i * 22} fontFamily={SERIF} fontWeight="bold" fontSize={16.2} fill="#222">{k}</text>
        </g>
      ))}

      <BoxPanel
        xRange={[917, 1408]}
        yRange={[985, 636]}
        panelTop={623}
        panelBottom={1001}
        boxes={haniBoxes}
        outliers={haniOutliers}
        rugSolid={haniRugSolid}
        rugLines={haniRugLines}
        fill="#fdbb1e"
        stroke="#555"
        stemStart={-0.012}
        stemEnd={-0.05}
        labelY={1016}
        title="Ancestry composition of Yunnan Hani group"
        titleX={1157}
        titleY={1046}
        titleSize={14.3}
        notched
      />
      <BoxPanel
        xRange={[1448, 1944]}
        yRange={[989, 636.7]}
        panelTop={623}
        panelBottom={1005}
        boxes={miaoBoxes}
        outliers={miaoOutliers}
        rugSolid={miaoRugSolid}
        rugLines={miaoRugLines}
        fill="#0000e6"
        stroke="#8a8a8a"
        stemStart={-0.012}
        stemEnd={-0.045}
        labelY={1018}
        title="Ancestry composition of Yunan Miao group"
        titleX={1692}
        titleY={1045}
        titleSize={14.5}
        notched={false}
      />
    </svg>
  );
}
